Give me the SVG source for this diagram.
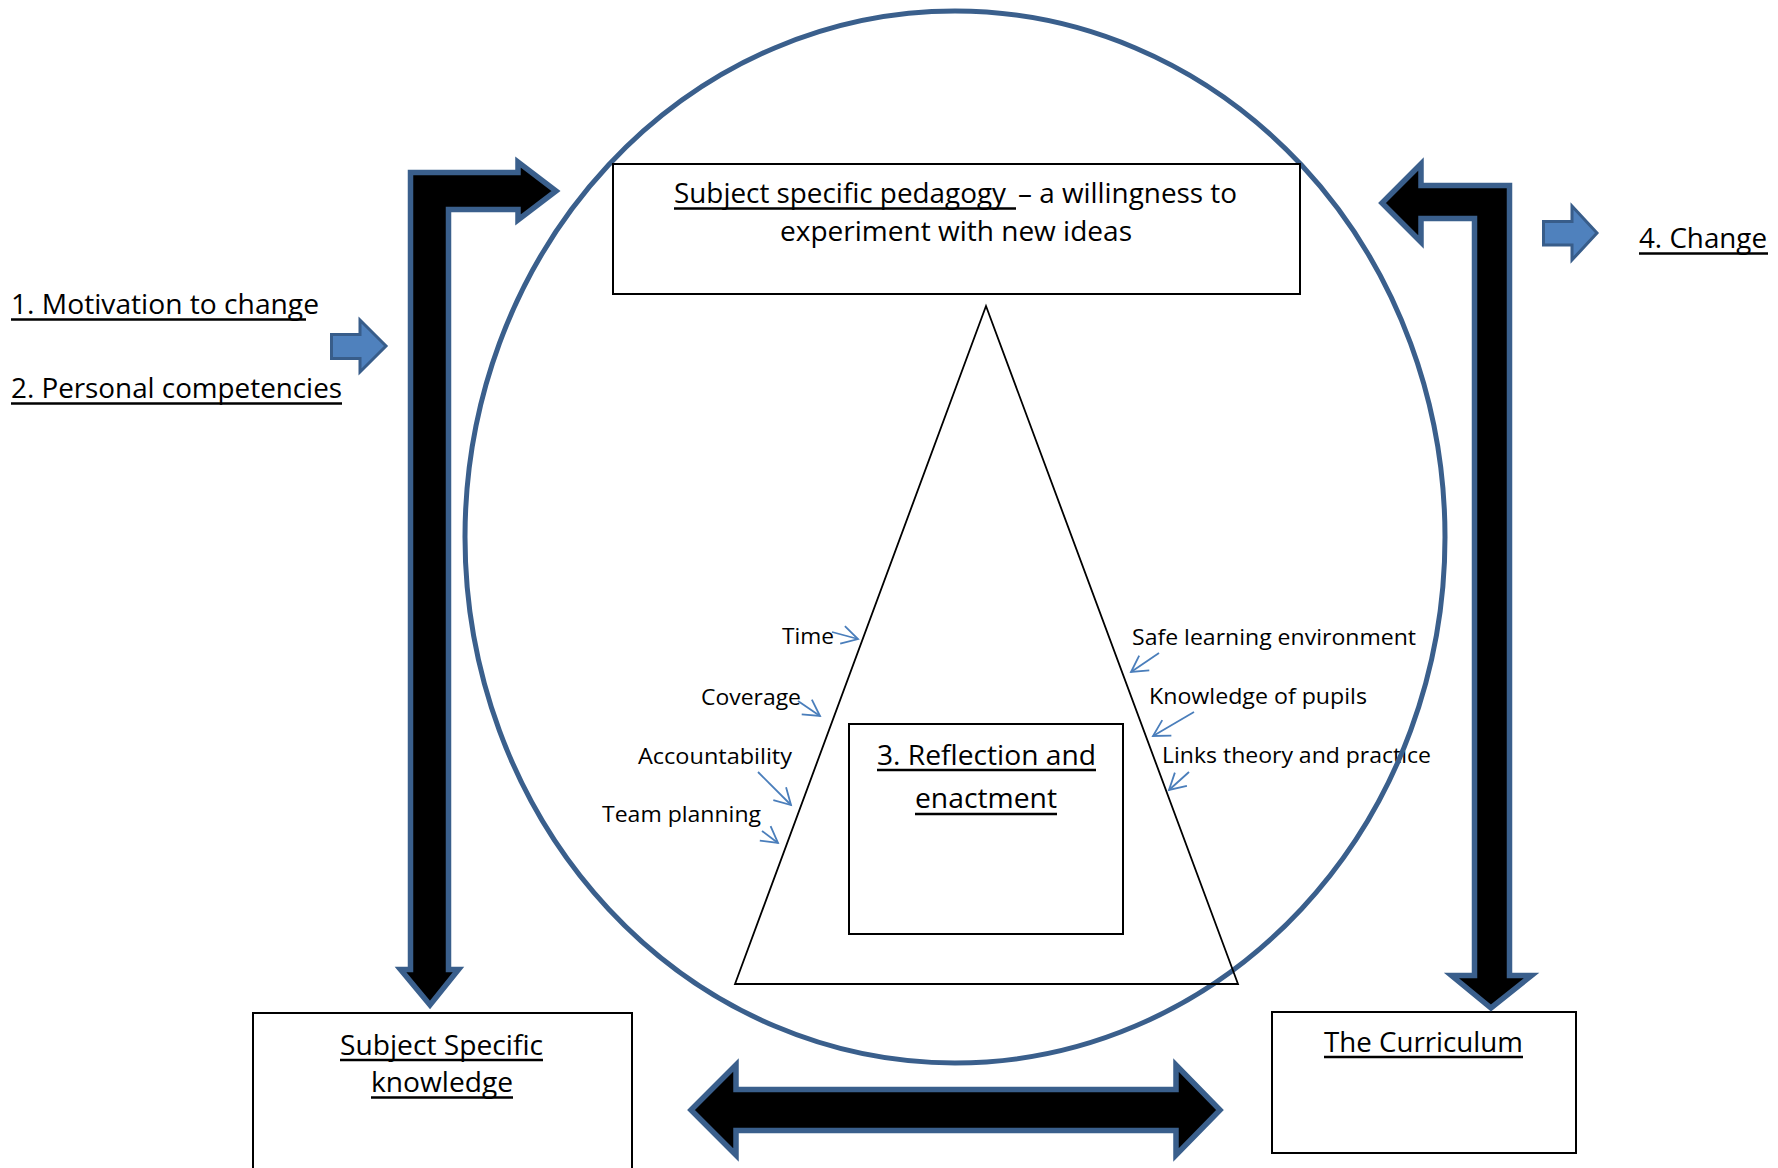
<svg xmlns="http://www.w3.org/2000/svg" width="1778" height="1168" viewBox="0 0 1778 1168">
<style>
  .big { font-family: "Open Sans", "Liberation Sans", sans-serif; font-size: 28px; fill: #000; }
  .small { font-family: "Open Sans", "Liberation Sans", sans-serif; font-size: 22.5px; fill: #000; }
  .ul { stroke: #000; stroke-width: 2.6; }
  .box { fill: #fff; stroke: #000; stroke-width: 2; }
  .block { fill: #000; stroke: #3A5F8C; stroke-width: 5.5; stroke-linejoin: miter; stroke-miterlimit: 10; }
  .blue { fill: #4F81BD; stroke: #385D8A; stroke-width: 3; stroke-linejoin: miter; }
  .thin { fill: none; stroke: #4A7EBB; stroke-width: 1.8; marker-end: url(#open); }
</style>
<defs>
  <marker id="open" markerUnits="userSpaceOnUse" viewBox="-20 -12 24 24" refX="0" refY="0" markerWidth="24" markerHeight="24" orient="auto" overflow="visible">
    <path d="M-16,-9 L0,0 L-16,9" fill="none" stroke="#4A7EBB" stroke-width="1.8"/>
  </marker>
</defs>
<rect width="1778" height="1168" fill="#fff"/>

<g id="factor-labels">
  <text class="small" x="782" y="644" textLength="52" lengthAdjust="spacingAndGlyphs">Time</text>
  <text class="small" x="701" y="705" textLength="100" lengthAdjust="spacingAndGlyphs">Coverage</text>
  <text class="small" x="638" y="764" textLength="154" lengthAdjust="spacingAndGlyphs">Accountability</text>
  <text class="small" x="602" y="822" textLength="159" lengthAdjust="spacingAndGlyphs">Team planning</text>
  <text class="small" x="1132" y="645" textLength="284" lengthAdjust="spacingAndGlyphs">Safe learning environment</text>
  <text class="small" x="1149" y="704" textLength="218" lengthAdjust="spacingAndGlyphs">Knowledge of pupils</text>
  <text class="small" x="1162" y="763" textLength="269" lengthAdjust="spacingAndGlyphs">Links theory and practice</text>
</g>

<g id="circle">
  <ellipse cx="955" cy="537" rx="490" ry="526" fill="none" stroke="#3A5F8C" stroke-width="5"/>
</g>

<g id="pedagogy">
  <rect class="box" x="613" y="164" width="687" height="130"/>
  <text class="big" x="674" y="203" textLength="332" lengthAdjust="spacingAndGlyphs">Subject specific pedagogy</text>
  <line class="ul" x1="674" y1="208.5" x2="1016" y2="208.5"/>
  <text class="big" x="1018" y="203" textLength="219" lengthAdjust="spacingAndGlyphs">– a willingness to</text>
  <text class="big" x="780" y="241" textLength="352" lengthAdjust="spacingAndGlyphs">experiment with new ideas</text>
</g>

<g id="triangle">
  <polygon points="986,306 1238,984 735,984" fill="none" stroke="#000" stroke-width="1.8"/>
</g>

<g id="reflection">
  <rect class="box" x="849" y="724" width="274" height="210"/>
  <text class="big" x="877" y="765" textLength="219" lengthAdjust="spacingAndGlyphs">3. Reflection and</text>
  <line class="ul" x1="877" y1="770" x2="1096" y2="770"/>
  <text class="big" x="915" y="808" textLength="142" lengthAdjust="spacingAndGlyphs">enactment</text>
  <line class="ul" x1="915" y1="814" x2="1057" y2="814"/>
</g>

<g id="motivation">
  <text class="big" x="11" y="314" textLength="308" lengthAdjust="spacingAndGlyphs">1. Motivation to change</text>
  <line class="ul" x1="11" y1="319.5" x2="306" y2="319.5"/>
</g>
<g id="competencies">
  <text class="big" x="11" y="398" textLength="331" lengthAdjust="spacingAndGlyphs">2. Personal competencies</text>
  <line class="ul" x1="11" y1="403.5" x2="342" y2="403.5"/>
</g>
<g id="change">
  <text class="big" x="1639" y="248" textLength="128" lengthAdjust="spacingAndGlyphs">4. Change</text>
  <line class="ul" x1="1639" y1="253.5" x2="1768" y2="253.5"/>
</g>

<g id="knowledge">
  <rect class="box" x="253" y="1013" width="379" height="170"/>
  <text class="big" x="340" y="1055" textLength="203" lengthAdjust="spacingAndGlyphs">Subject Specific</text>
  <line class="ul" x1="340" y1="1060" x2="543" y2="1060"/>
  <text class="big" x="371" y="1092" textLength="142" lengthAdjust="spacingAndGlyphs">knowledge</text>
  <line class="ul" x1="371" y1="1097.5" x2="513" y2="1097.5"/>
</g>

<g id="curriculum">
  <rect class="box" x="1272" y="1012" width="304" height="141"/>
  <text class="big" x="1324" y="1052" textLength="199" lengthAdjust="spacingAndGlyphs">The Curriculum</text>
  <line class="ul" x1="1324" y1="1057" x2="1523" y2="1057"/>
</g>

<g id="connectors">
  <path class="block" d="M410.5,172.5 L518,172.5 L518,162 L556,191 L518,220 L518,209.5 L448.5,209.5 L448.5,969.5 L458.5,969.5 L430,1005 L400.5,969.5 L410.5,969.5 Z"/>
  <path class="block" d="M1509.5,185.5 L1509.5,975.5 L1531.5,975.5 L1491,1008 L1451.5,975.5 L1474.5,975.5 L1474.5,218.5 L1421,218.5 L1421,242 L1382,203 L1421,164 L1421,185.5 Z"/>
  <path class="block" d="M691,1110 L736,1065 L736,1089.5 L1176,1089.5 L1176,1065 L1220,1110 L1176,1155 L1176,1130.5 L736,1130.5 L736,1155 Z"/>
  <path class="blue" d="M331.5,334.5 L360,334.5 L360,320 L386,346 L360,372 L360,358.5 L331.5,358.5 Z"/>
  <path class="blue" d="M1543.5,221.5 L1572,221.5 L1572,206 L1597,233 L1572,260 L1572,245 L1543.5,245 Z"/>
  <line class="thin" x1="832" y1="632" x2="858" y2="639"/>
  <line class="thin" x1="798" y1="701" x2="820" y2="716"/>
  <line class="thin" x1="758" y1="772" x2="791" y2="805"/>
  <line class="thin" x1="762" y1="831" x2="778" y2="843"/>
  <line class="thin" x1="1159" y1="653" x2="1131" y2="672"/>
  <line class="thin" x1="1194" y1="712" x2="1153" y2="736"/>
  <line class="thin" x1="1189" y1="772" x2="1169" y2="790"/>
</g>
</svg>
